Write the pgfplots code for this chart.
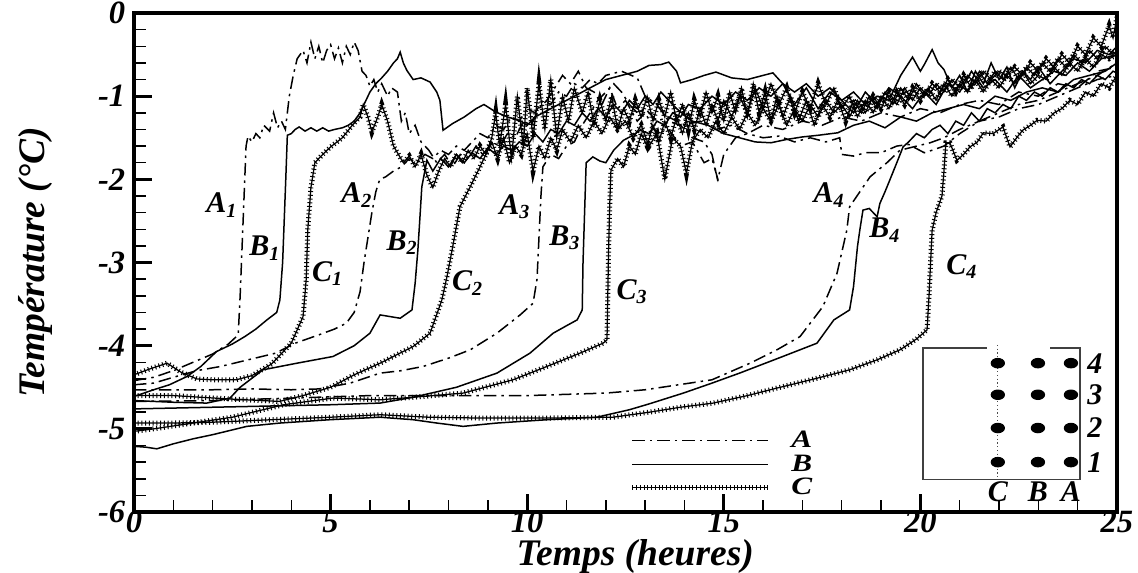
\documentclass[border=0pt]{standalone}
\usepackage{fontspec}
\setmainfont{Liberation Serif}
\usepackage{pgfplots}
\pgfplotsset{compat=1.18}

\pgfplotsset{
  curveA/.style={black, line width=0.6pt, dash pattern=on 5pt off 2pt on 1pt off 2pt},
  curveB/.style={black, line width=0.6pt},
  curveC/.style={black, line width=0.5pt,
    postaction={draw, line width=2.0pt, dash pattern=on 0.4pt off 1.1pt}},
}

\begin{document}
\begin{tikzpicture}
\begin{axis}[
  scale only axis,
  width=13.82cm, height=7.016cm,
  xmin=0, xmax=25, ymin=-6, ymax=0,
  xtick={0,5,...,25}, ytick={-6,-5,...,0},
  minor x tick num=4, minor y tick num=4,
  tick align=inside, tick pos=left,
  major tick length=0.26cm, minor tick length=0.17cm,
  major tick style={line width=1.3pt, black},
  minor tick style={line width=0.6pt, black},
  axis line style={line width=1.6pt},
  /pgf/number format/assume math mode=true,
  tick label style={font=\fontsize{13}{15}\selectfont\bfseries\itshape},
  xticklabel style={yshift=4pt},
  xlabel={Temps (heures)},
  ylabel={Température (°C)},
  label style={font=\fontsize{15}{17}\selectfont\bfseries\itshape},
  xlabel style={at={(axis description cs:0.51,-0.09)}, anchor=center},
  ylabel style={at={(axis description cs:-0.1,0.5)}, anchor=center},
  legend image code/.code={\draw[#1] (0cm,0cm) -- (1.9cm,0cm);},
  legend style={at={(axis cs:12.6,-5.04)}, anchor=north west, draw=none, fill=none,
    inner sep=0pt, row sep=3pt,
    font=\fontsize{10}{11}\selectfont\bfseries\itshape,
    nodes={inner sep=0pt, text height=1.3ex, text depth=0.1ex, xscale=1.25},
    /tikz/every odd column/.append style={column sep=0.3cm}},
  legend cell align=left,
]

% ---- position 1
\addplot[curveA, forget plot] coordinates {
(0,-4.42) (0.5,-4.38) (1.0,-4.3) (1.5,-4.2) (2.0,-4.1) (2.4,-3.98) (2.65,-3.87) (2.7,-3.4) (2.75,-2.8) (2.8,-2.2) (2.85,-1.6) (2.9,-1.48) (3.0,-1.55) (3.1,-1.45) (3.2,-1.5) (3.3,-1.35) (3.45,-1.42) (3.55,-1.2) (3.65,-1.38) (3.75,-1.3) (3.85,-1.4) (3.95,-1.0) (4.05,-0.75) (4.15,-0.55) (4.3,-0.45) (4.4,-0.6) (4.5,-0.35) (4.6,-0.55) (4.7,-0.4) (4.8,-0.6) (4.9,-0.45) (5.0,-0.38) (5.1,-0.55) (5.2,-0.42) (5.3,-0.6) (5.4,-0.4) (5.5,-0.5) (5.6,-0.35) (5.7,-0.45) (5.8,-0.7) (5.9,-0.75) (6.0,-0.88) (6.1,-0.8) (6.2,-0.95) (6.3,-0.85) (6.45,-1.0) (6.55,-0.9) (6.7,-0.95) (6.8,-1.3) (6.9,-1.2) (7.0,-1.45) (7.15,-1.35) (7.3,-1.55) (7.5,-1.65) (7.7,-1.8) (7.9,-1.7) (8.1,-1.85) (8.3,-1.7) (8.5,-1.75) (8.7,-1.6) (8.9,-1.72) (9.1,-1.55) (9.3,-1.6) (9.5,-1.45) (9.7,-1.5) (9.9,-1.3) (10.1,-1.35) (10.3,-1.15) (10.5,-1.05) (10.7,-0.9) (10.9,-0.75) (11.1,-0.85) (11.3,-0.7) (11.5,-0.9) (11.7,-0.95) (11.9,-1.1) (12.1,-0.9) (12.3,-1.15) (12.5,-1.05) (12.8,-1.3) (13.0,-1.2) (13.3,-1.45) (13.6,-1.4) (13.9,-1.6) (14.2,-1.55) (14.5,-1.8) (14.7,-1.75) (14.85,-2.0) (15.0,-1.7) (15.3,-1.5) (15.6,-1.45) (16.0,-1.35) (16.5,-1.4) (17.0,-1.3) (17.5,-1.35) (18.0,-1.25) (18.5,-1.3) (19.0,-1.2) (19.5,-1.25) (20.0,-1.15) (20.5,-1.2) (21.0,-1.1) (21.5,-1.05) (22.0,-1.1) (22.5,-0.95) (23.0,-1.0) (23.5,-0.85) (24.0,-0.9) (24.5,-0.7) (25.0,-0.65)
};
\addplot[curveB, forget plot] coordinates {
(0,-4.61) (0.5,-4.53) (0.9,-4.47) (1.35,-4.37) (1.7,-4.25) (2.1,-4.07) (2.5,-3.98) (2.82,-3.89) (3.1,-3.8) (3.38,-3.69) (3.63,-3.6) (3.71,-3.45) (3.78,-3.0) (3.82,-2.5) (3.86,-2.0) (3.9,-1.47) (4.0,-1.45) (4.1,-1.4) (4.2,-1.37) (4.35,-1.42) (4.5,-1.38) (4.65,-1.42) (4.8,-1.38) (4.95,-1.42) (5.1,-1.4) (5.3,-1.38) (5.45,-1.35) (5.6,-1.3) (5.75,-1.2) (5.9,-1.05) (6.0,-0.95) (6.15,-0.85) (6.3,-0.78) (6.45,-0.7) (6.6,-0.6) (6.7,-0.55) (6.77,-0.47) (6.85,-0.6) (6.94,-0.69) (7.1,-0.8) (7.3,-0.78) (7.53,-0.83) (7.7,-0.95) (7.78,-1.05) (7.86,-1.41) (8.1,-1.33) (8.4,-1.25) (8.7,-1.15) (8.9,-1.1) (9.2,-1.19) (9.5,-1.25) (9.8,-1.29) (10.0,-1.35) (10.2,-1.25) (10.4,-1.2) (10.8,-1.1) (11.2,-1.0) (11.6,-0.9) (12.0,-0.8) (12.4,-0.75) (12.8,-0.7) (13.1,-0.63) (13.4,-0.62) (13.6,-0.59) (13.8,-0.7) (13.9,-0.84) (14.2,-0.8) (14.5,-0.75) (14.8,-0.71) (15.2,-0.78) (15.6,-0.8) (16.0,-0.75) (16.25,-0.72) (16.5,-0.85) (16.8,-0.95) (17.1,-0.85) (17.4,-1.0) (17.7,-0.9) (18.0,-1.05) (18.3,-0.95) (18.6,-1.1) (18.9,-1.0) (19.2,-1.05) (19.5,-0.75) (19.8,-0.53) (20.0,-0.7) (20.1,-0.62) (20.3,-0.44) (20.45,-0.6) (20.6,-0.68) (20.8,-0.9) (21.0,-0.75) (21.2,-0.95) (21.4,-0.7) (21.6,-0.85) (21.8,-0.6) (22.0,-0.8) (22.2,-0.65) (22.4,-0.9) (22.6,-0.7) (22.8,-0.8) (23.0,-0.65) (23.3,-0.85) (23.6,-0.7) (23.9,-0.55) (24.2,-0.6) (24.5,-0.45) (24.8,-0.5) (25.0,-0.4)
};
\addplot[curveC, forget plot] coordinates {
(0,-4.35) (0.4,-4.28) (0.84,-4.21) (1.2,-4.32) (1.6,-4.4) (2.0,-4.41) (2.6,-4.41) (3.0,-4.36) (3.5,-4.22) (4.0,-3.97) (4.3,-3.65) (4.38,-3.2) (4.42,-2.6) (4.5,-2.1) (4.6,-1.8) (4.8,-1.7) (5.0,-1.61) (5.3,-1.5) (5.55,-1.35) (5.75,-1.25) (5.83,-1.1) (5.95,-1.25) (6.05,-1.43) (6.2,-1.25) (6.3,-1.1) (6.45,-1.3) (6.6,-1.6) (6.85,-1.8) (7.0,-1.72) (7.15,-1.85) (7.3,-1.7) (7.45,-1.95) (7.6,-2.1) (7.75,-1.9) (7.9,-1.75) (8.05,-1.85) (8.2,-1.7) (8.35,-1.8) (8.5,-1.65) (8.65,-1.75) (8.8,-1.6) (8.95,-1.7) (9.1,-1.55) (9.25,-1.75) (9.4,-1.5) (9.55,-1.8) (9.7,-1.6) (9.85,-1.7) (10.0,-1.45) (10.15,-1.9) (10.3,-1.6) (10.45,-1.75) (10.6,-1.5) (10.75,-1.65) (10.9,-1.4) (11.1,-1.55) (11.3,-1.35) (11.5,-1.5) (11.7,-1.3) (11.9,-1.45) (12.1,-1.25) (12.3,-1.4) (12.5,-1.3) (12.7,-1.5) (12.9,-1.35) (13.1,-1.6) (13.3,-1.45) (13.5,-2.0) (13.7,-1.5) (13.9,-1.6) (14.05,-1.93) (14.2,-1.55) (14.4,-1.4) (14.6,-1.5) (14.8,-1.3) (15.0,-1.45) (15.2,-1.25) (15.4,-1.4) (15.6,-1.2) (15.8,-1.35) (16.0,-1.15) (16.2,-1.3) (16.4,-1.1) (16.6,-1.35) (16.8,-1.15) (17.0,-1.3) (17.2,-1.1) (17.4,-1.25) (17.6,-1.05) (17.8,-1.2) (18.0,-1.1) (18.2,-1.25) (18.4,-1.05) (18.6,-1.2) (18.8,-1.0) (19.0,-1.15) (19.2,-0.95) (19.4,-1.1) (19.6,-0.9) (19.8,-1.05) (20.0,-0.9) (20.2,-1.0) (20.4,-0.85) (20.6,-0.95) (20.8,-0.8) (21.0,-0.9) (21.2,-0.75) (21.4,-0.85) (21.6,-0.7) (21.8,-0.8) (22.0,-0.7) (22.2,-0.75) (22.4,-0.65) (22.6,-0.75) (22.8,-0.6) (23.0,-0.7) (23.2,-0.55) (23.4,-0.65) (23.6,-0.5) (23.8,-0.6) (24.0,-0.4) (24.2,-0.5) (24.4,-0.3) (24.6,-0.4) (24.8,-0.15) (24.9,-0.3) (25.0,-0.05)
};

% ---- position 2
\addplot[curveA, forget plot] coordinates {
(0,-4.47) (0.5,-4.45) (1.0,-4.38) (1.6,-4.3) (2.2,-4.25) (2.9,-4.17) (3.6,-4.09) (4.1,-3.97) (4.7,-3.87) (5.1,-3.8) (5.4,-3.73) (5.6,-3.6) (5.75,-3.35) (5.85,-3.0) (5.95,-2.7) (6.05,-2.4) (6.15,-2.15) (6.25,-2.0) (6.4,-1.97) (6.6,-1.9) (6.8,-1.85) (7.0,-1.75) (7.2,-1.8) (7.4,-1.7) (7.6,-1.75) (7.8,-1.65) (8.0,-1.7) (8.2,-1.6) (8.4,-1.65) (8.6,-1.55) (8.8,-1.45) (9.0,-1.5) (9.2,-1.35) (9.4,-1.4) (9.6,-1.25) (9.8,-1.3) (10.0,-1.15) (10.2,-1.2) (10.4,-1.05) (10.6,-1.1) (10.8,-0.95) (11.0,-1.0) (11.2,-0.85) (11.4,-0.9) (11.6,-0.8) (11.8,-0.85) (12.0,-0.75) (12.4,-0.7) (12.8,-0.78) (13.0,-1.0) (13.3,-1.1) (13.6,-1.3) (13.9,-1.35) (14.2,-1.5) (14.5,-1.55) (14.7,-1.7) (14.85,-2.02)
};
\addplot[curveB, forget plot] coordinates {
(0,-4.66) (1,-4.68) (1.85,-4.69) (2.44,-4.63) (2.7,-4.5) (3.28,-4.29) (4.15,-4.21) (5.06,-4.13) (5.6,-4.0) (6.0,-3.85) (6.26,-3.63) (6.77,-3.67) (7.07,-3.57) (7.15,-3.25) (7.22,-2.85) (7.28,-2.4) (7.32,-2.09) (7.45,-1.77) (7.6,-1.9) (7.8,-1.75) (8.0,-1.85) (8.2,-1.7) (8.4,-1.8) (8.6,-1.68) (8.8,-1.75) (9.0,-1.62) (9.2,-1.7) (9.4,-1.6) (9.6,-1.65) (9.8,-1.55) (10.0,-1.6) (10.2,-1.45) (10.4,-1.55) (10.6,-1.4) (10.8,-1.45) (11.0,-1.3) (11.2,-1.35) (11.4,-1.2) (11.6,-1.3) (11.8,-1.15) (12.0,-1.25) (12.2,-1.1) (12.4,-1.2) (12.6,-1.05) (12.8,-1.15) (13.0,-1.0) (13.2,-1.1) (13.4,-0.95) (13.8,-1.15) (14.2,-1.3) (14.6,-1.35) (15.0,-1.45) (15.4,-1.5) (15.8,-1.55) (16.2,-1.56) (16.6,-1.52) (17.0,-1.49) (17.4,-1.47) (17.9,-1.44) (18.3,-1.35) (18.7,-1.3) (19.1,-1.38) (19.5,-1.25) (19.9,-1.3) (20.3,-1.2) (20.7,-1.15) (21.1,-1.1) (21.5,-1.15) (21.9,-1.0) (22.3,-1.05) (22.7,-0.95) (23.1,-0.9) (23.5,-0.95) (23.9,-0.8) (24.3,-0.75) (24.7,-0.7) (25.0,-0.6)
};
\addplot[curveC, forget plot] coordinates {
(0,-4.6) (1,-4.6) (2.4,-4.64) (3.7,-4.67) (4.3,-4.6) (5.0,-4.5) (5.6,-4.35) (6.26,-4.21) (7.1,-4.01) (7.53,-3.85) (7.83,-3.45) (7.96,-3.17) (8.09,-2.85) (8.29,-2.33) (8.55,-2.09) (8.8,-1.85) (8.95,-1.7) (9.1,-1.5) (9.2,-1.2) (9.3,-1.6) (9.45,-1.1) (9.6,-1.75) (9.75,-1.0) (9.9,-1.6) (10.0,-0.9) (10.15,-1.5) (10.3,-0.85) (10.45,-1.4) (10.6,-0.8) (10.75,-1.5) (10.9,-1.0) (11.05,-1.3) (11.2,-0.9) (11.4,-1.2) (11.55,-0.95) (11.7,-1.35) (11.85,-1.05) (12.0,-1.3) (12.15,-1.0) (12.3,-1.4) (12.45,-1.15) (12.6,-1.3) (12.75,-1.05) (12.9,-1.25) (13.05,-1.0) (13.2,-1.3) (13.35,-1.05) (13.5,-1.25) (13.65,-0.95) (13.8,-1.3) (13.95,-1.1) (14.1,-1.4) (14.25,-1.05) (14.4,-1.25) (14.55,-0.95) (14.7,-1.2) (14.85,-1.0) (15.0,-1.3) (15.15,-0.95) (15.3,-1.2) (15.45,-0.9) (15.6,-1.25) (15.75,-0.85) (15.9,-1.2) (16.05,-0.95) (16.2,-1.3) (16.35,-1.0) (16.5,-1.25) (16.7,-1.0) (16.9,-1.3) (17.1,-1.05) (17.3,-1.35) (17.5,-1.1) (17.7,-1.25) (17.9,-1.05) (18.1,-1.3) (18.3,-1.05) (18.5,-1.2) (18.7,-1.0) (18.9,-1.15) (19.1,-0.95) (19.3,-1.1) (19.5,-0.9) (19.7,-1.05) (19.9,-0.85) (20.1,-1.0) (20.3,-0.85) (20.5,-0.95) (20.7,-0.8) (20.9,-0.95) (21.1,-0.75) (21.3,-0.9) (21.5,-0.7) (21.7,-0.85) (21.9,-0.7) (22.1,-0.8) (22.3,-0.65) (22.5,-0.8) (22.7,-0.65) (22.9,-0.75) (23.1,-0.6) (23.3,-0.7) (23.5,-0.55) (23.7,-0.65) (23.9,-0.5) (24.1,-0.6) (24.3,-0.45) (24.5,-0.55) (24.7,-0.4) (24.9,-0.5) (25.0,-0.45)
};

% ---- position 3
\addplot[curveA, forget plot] coordinates {
(0,-4.53) (1,-4.53) (2,-4.53) (3,-4.52) (4,-4.53) (4.7,-4.52) (5.5,-4.45) (6.26,-4.33) (6.8,-4.3) (7.35,-4.25) (8.0,-4.15) (8.55,-4.05) (9.23,-3.85) (9.82,-3.63) (10.15,-3.49) (10.25,-3.2) (10.3,-2.7) (10.35,-2.2) (10.4,-1.85) (10.6,-1.7) (10.8,-1.75) (11.0,-1.6) (11.2,-1.55) (11.4,-1.35) (11.6,-1.2) (11.8,-1.05) (12.0,-0.95) (12.2,-0.85) (12.4,-0.95) (12.6,-1.1) (12.8,-1.2) (13.0,-1.15) (13.3,-1.3) (13.6,-1.25) (14.0,-1.35) (14.4,-1.3) (14.8,-1.4) (15.2,-1.35) (15.6,-1.45) (16.0,-1.5) (16.4,-1.48) (16.8,-1.55) (17.2,-1.5) (17.6,-1.55) (17.95,-1.5) (18.0,-1.7) (18.3,-1.72) (18.6,-1.68) (19.0,-1.68) (19.4,-1.6) (19.7,-1.58) (20.1,-1.68) (20.3,-1.65) (20.6,-1.6) (21.0,-1.45) (21.5,-1.3) (22.0,-1.2) (22.5,-1.1) (23.0,-1.05) (23.5,-0.95) (24.0,-0.85) (24.5,-0.75) (25.0,-0.6)
};
\addplot[curveB, forget plot] coordinates {
(0,-4.76) (1,-4.75) (2,-4.74) (3,-4.73) (4,-4.72) (5,-4.71) (6.26,-4.69) (7.1,-4.62) (8.2,-4.5) (9.23,-4.33) (10.07,-4.09) (10.66,-3.85) (11.0,-3.76) (11.27,-3.69) (11.4,-3.57) (11.42,-3.0) (11.46,-2.4) (11.5,-1.8) (11.67,-1.73) (11.85,-1.78) (12.0,-1.8) (12.2,-1.65) (12.45,-1.53) (12.65,-1.48) (12.87,-1.41) (13.1,-1.45) (13.3,-1.3) (13.5,-1.35) (13.7,-1.2) (13.9,-1.25) (14.1,-1.1) (14.4,-1.15) (14.7,-1.0) (15.0,-1.1) (15.3,-0.95) (15.6,-1.05) (15.9,-0.9) (16.2,-1.0) (16.5,-0.85) (16.8,-1.1) (17.1,-0.9) (17.4,-1.15) (17.7,-0.95) (18.0,-1.05) (18.3,-1.2) (18.6,-0.95) (18.9,-1.1) (19.2,-0.9) (19.5,-1.0) (19.8,-1.15) (20.1,-0.95) (20.4,-1.1) (20.7,-0.85) (21.0,-0.95) (21.3,-0.7) (21.6,-0.9) (21.9,-0.8) (22.2,-0.95) (22.5,-0.75) (22.8,-0.9) (23.1,-0.8) (23.4,-0.7) (23.7,-0.75) (24.0,-0.6) (24.3,-0.7) (24.6,-0.55) (25.0,-0.5)
};
\addplot[curveC, forget plot] coordinates {
(0,-5.03) (0.5,-5.0) (1.5,-4.93) (2.5,-4.86) (3.8,-4.71) (5.06,-4.63) (6.26,-4.65) (7.1,-4.62) (8.37,-4.57) (9.64,-4.41) (10.5,-4.25) (11.34,-4.09) (11.93,-3.97) (12.03,-3.93) (12.05,-3.4) (12.07,-2.85) (12.1,-2.3) (12.13,-1.89) (12.3,-1.75) (12.45,-1.85) (12.6,-1.6) (12.75,-1.7) (12.9,-1.45) (13.05,-1.6) (13.2,-1.35) (13.35,-1.55) (13.5,-1.3) (13.65,-1.5) (13.8,-1.25) (13.95,-1.45) (14.1,-1.2) (14.25,-1.4) (14.4,-1.15) (14.55,-1.35) (14.7,-1.1) (14.85,-1.3) (15.0,-1.05) (15.2,-1.25) (15.4,-1.0) (15.6,-1.2) (15.8,-0.9) (16.0,-1.15) (16.2,-0.85) (16.4,-1.1) (16.6,-0.9) (16.8,-1.2) (17.0,-0.95) (17.2,-1.15) (17.4,-0.85) (17.6,-1.1) (17.8,-0.9) (18.0,-1.15) (18.2,-1.0) (18.4,-1.25) (18.6,-1.05) (18.8,-1.2) (19.0,-1.0) (19.2,-1.15) (19.4,-0.95) (19.6,-1.1) (19.8,-0.9) (20.0,-1.05) (20.2,-0.9) (20.4,-1.05) (20.6,-0.85) (20.8,-1.0) (21.0,-0.85) (21.2,-0.95) (21.4,-0.8) (21.6,-0.95) (21.8,-0.8) (22.0,-0.9) (22.2,-0.75) (22.4,-0.85) (22.6,-0.7) (22.8,-0.85) (23.0,-0.75) (23.2,-0.8) (23.4,-0.65) (23.6,-0.75) (23.8,-0.6) (24.0,-0.7) (24.2,-0.55) (24.4,-0.65) (24.6,-0.5) (24.8,-0.55) (25.0,-0.5)
};

% ---- position 4
\addplot[curveA, forget plot] coordinates {
(0,-4.67) (2,-4.66) (4,-4.63) (6,-4.6) (8,-4.6) (10,-4.6) (12,-4.57) (13,-4.53) (14.7,-4.41) (15.67,-4.21) (16.35,-4.05) (16.94,-3.89) (17.52,-3.53) (17.88,-3.13) (18.13,-2.61) (18.2,-2.33) (18.72,-1.97) (19.15,-1.8) (19.48,-1.65) (20.25,-1.56) (20.6,-1.5) (21.0,-1.4) (21.5,-1.3) (22.0,-1.25) (22.5,-1.15) (23.0,-1.1) (23.5,-1.0) (24.0,-0.9) (24.5,-0.8) (25.0,-0.75)
};
\addplot[curveB, forget plot] coordinates {
(0,-5.21) (0.3,-5.22) (0.58,-5.24) (1.0,-5.18) (1.5,-5.12) (2.0,-5.07) (2.87,-4.97) (3.71,-4.93) (4.98,-4.89) (6.26,-4.86) (7.1,-4.89) (7.7,-4.93) (8.37,-4.97) (9.23,-4.93) (10.5,-4.89) (11.77,-4.86) (12.6,-4.77) (13.1,-4.7) (13.97,-4.57) (14.7,-4.45) (15.4,-4.33) (16.5,-4.13) (17.37,-3.97) (17.8,-3.69) (18.2,-3.57) (18.3,-3.29) (18.4,-2.81) (18.46,-2.61) (18.54,-2.37) (18.7,-2.35) (18.9,-2.45) (18.97,-2.29) (19.1,-2.15) (19.23,-2.0) (19.4,-1.8) (19.56,-1.61) (19.7,-1.55) (19.9,-1.45) (20.1,-1.5) (20.3,-1.4) (20.5,-1.35) (20.7,-1.45) (20.9,-1.3) (21.1,-1.35) (21.3,-1.2) (21.5,-1.3) (21.7,-1.15) (21.9,-1.2) (22.1,-1.1) (22.3,-1.15) (22.5,-1.0) (22.7,-1.05) (22.9,-0.95) (23.1,-1.0) (23.3,-0.9) (23.5,-0.95) (23.7,-0.85) (23.9,-0.9) (24.1,-0.8) (24.3,-0.85) (24.5,-0.75) (24.7,-0.8) (24.9,-0.7) (25.0,-0.72)
};
\addplot[curveC, forget plot] coordinates {
(0,-4.93) (1,-4.93) (2,-4.92) (3,-4.9) (4,-4.88) (5,-4.86) (6.26,-4.83) (7.5,-4.86) (8.8,-4.87) (10.5,-4.87) (12.18,-4.86) (13.1,-4.8) (13.9,-4.74) (14.73,-4.69) (15.6,-4.6) (16.35,-4.51) (17.3,-4.4) (18.2,-4.29) (18.9,-4.17) (19.48,-4.05) (19.9,-3.92) (20.17,-3.81) (20.22,-3.4) (20.27,-2.9) (20.3,-2.61) (20.4,-2.4) (20.55,-2.2) (20.6,-1.9) (20.65,-1.56) (20.75,-1.56) (20.93,-1.77) (21.1,-1.7) (21.26,-1.61) (21.45,-1.55) (21.6,-1.44) (21.85,-1.45) (22.1,-1.37) (22.28,-1.61) (22.45,-1.5) (22.6,-1.41) (22.8,-1.35) (22.97,-1.29) (23.2,-1.3) (23.4,-1.2) (23.6,-1.15) (23.8,-1.05) (24.0,-1.1) (24.2,-0.95) (24.4,-1.0) (24.6,-0.85) (24.8,-0.9) (25.0,-0.75)
};

% ---- legend
\addlegendimage{curveA} \addlegendentry{A}
\addlegendimage{curveB} \addlegendentry{B}
\addlegendimage{curveC} \addlegendentry{C}

% ---- curve labels
\begin{scope}[every node/.style={font=\fontsize{12}{13}\selectfont\bfseries\itshape, inner sep=0pt}]
\node at (axis cs:2.24,-2.31) {A\textsubscript{1}};
\node at (axis cs:3.33,-2.83) {B\textsubscript{1}};
\node at (axis cs:4.93,-3.13) {C\textsubscript{1}};
\node at (axis cs:5.67,-2.19) {A\textsubscript{2}};
\node at (axis cs:6.82,-2.76) {B\textsubscript{2}};
\node at (axis cs:8.49,-3.25) {C\textsubscript{2}};
\node at (axis cs:9.69,-2.33) {A\textsubscript{3}};
\node at (axis cs:10.96,-2.70) {B\textsubscript{3}};
\node at (axis cs:12.67,-3.35) {C\textsubscript{3}};
\node at (axis cs:17.68,-2.19) {A\textsubscript{4}};
\node at (axis cs:19.1,-2.61) {B\textsubscript{4}};
\node at (axis cs:21.06,-3.05) {C\textsubscript{4}};
\end{scope}

% ---- inset: sensor positions
\draw[black!75, line width=0.6pt] (axis cs:23.3,-4.03) -- (axis cs:24.06,-4.03) -- (axis cs:24.06,-5.61)
  -- (axis cs:20.07,-5.61) -- (axis cs:20.07,-4.03) -- (axis cs:21.69,-4.03);
\draw[black!70, densely dotted, line width=0.5pt] (axis cs:21.97,-3.99) -- (axis cs:21.97,-5.58);
\addplot[only marks, mark=*, mark size=1.9pt, mark options={xscale=1.4, fill=black}, forget plot] coordinates {
(21.97,-4.21) (22.99,-4.21) (23.83,-4.21)
(21.97,-4.59) (22.99,-4.59) (23.83,-4.59)
(21.97,-4.99) (22.99,-4.99) (23.83,-4.99)
(21.97,-5.40) (22.99,-5.40) (23.83,-5.40)
};
\begin{scope}[every node/.style={font=\fontsize{12}{13}\selectfont\bfseries\itshape, inner sep=0pt}]
\node at (axis cs:24.44,-4.21) {4};
\node at (axis cs:24.44,-4.59) {3};
\node at (axis cs:24.44,-4.99) {2};
\node at (axis cs:24.44,-5.40) {1};
\node at (axis cs:21.97,-5.75) {C};
\node at (axis cs:22.99,-5.75) {B};
\node at (axis cs:23.83,-5.75) {A};
\end{scope}
\end{axis}
\pgfresetboundingbox
\path[use as bounding box] (-1.884,-0.844) rectangle (14.116,7.199);
\end{tikzpicture}
\end{document}
